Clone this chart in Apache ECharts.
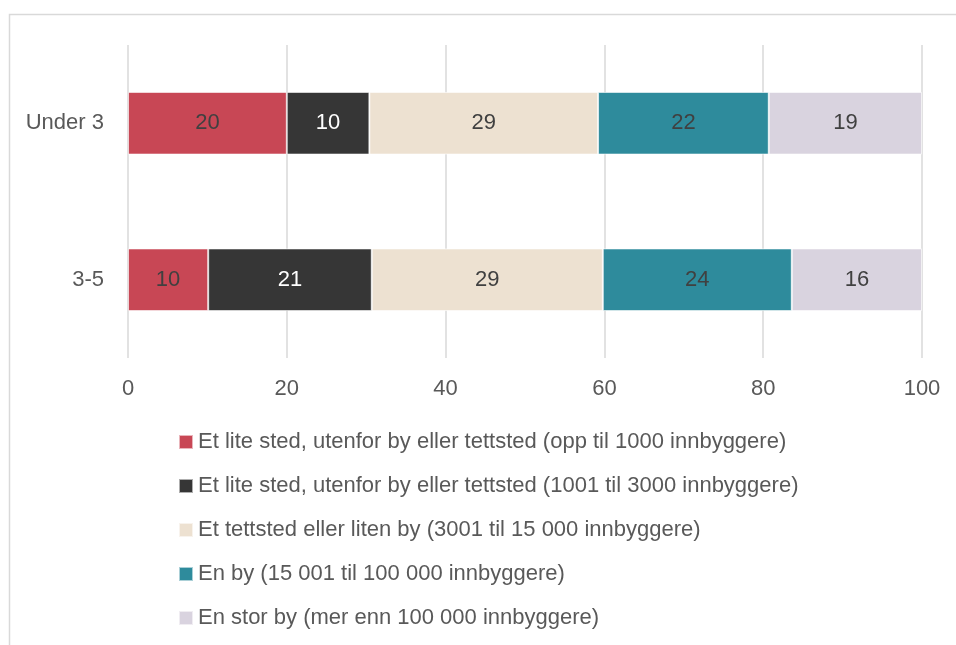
<!DOCTYPE html>
<html>
<head>
<meta charset="utf-8">
<script src="https://cdn.jsdelivr.net/npm/echarts@6/dist/echarts.min.js"></script>
<style>
  html, body { margin: 0; padding: 0; background: #fff; }
  #chart { width: 956px; height: 645px; }
</style>
</head>
<body>
<div id="chart"></div>
<script>
const categories = ["Under 3", "3-5"];
const seriesNames = [
  "Et lite sted, utenfor by eller tettsted (opp til 1000 innbyggere)",
  "Et lite sted, utenfor by eller tettsted (1001 til 3000 innbyggere)",
  "Et tettsted eller liten by (3001 til 15 000 innbyggere)",
  "En by (15 001 til 100 000 innbyggere)",
  "En stor by (mer enn 100 000 innbyggere)",
];
// per series: [Under 3, 3-5]
const smallPlace = [20.0, 10.1];
const smallTown = [10.4, 20.6];
const town = [28.8, 29.1];
const city = [21.5, 23.8];
const bigCity = [19.3, 16.4];
const xTicks = [0, 20, 40, 60, 80, 100];

const colors = ["#c84755", "#363636", "#ede1d1", "#2e8b9c", "#d9d3df"];
const labelColors = ["#404040", "#ffffff", "#404040", "#404040", "#404040"];
const values = [smallPlace, smallTown, town, city, bigCity];

const chart = echarts.init(document.getElementById("chart"), null, { renderer: "canvas" });
const font = "Liberation Sans";

chart.setOption({
  animation: false,
  textStyle: { fontFamily: font },
  graphic: [{
    type: "rect",
    shape: { x: 9.5, y: 14.5, width: 1000, height: 700 },
    style: { fill: "none", stroke: "#d9d9d9", lineWidth: 1.5 },
    silent: true,
  }],
  grid: { left: 128, right: 34, top: 45, bottom: 287 },
  xAxis: {
    type: "value",
    min: xTicks[0],
    max: xTicks[xTicks.length - 1],
    interval: 20,
    axisLine: { show: false },
    axisTick: { show: false },
    axisLabel: { color: "#595959", fontSize: 22, margin: 20, fontFamily: font },
    splitLine: { lineStyle: { color: "#d9d9d9", width: 1.5 } },
  },
  yAxis: {
    type: "category",
    data: categories,
    inverse: true,
    axisLine: { show: false },
    axisTick: { show: false },
    axisLabel: { color: "#595959", fontSize: 22, margin: 24, fontFamily: font },
  },
  legend: {
    orient: "vertical",
    left: 178,
    top: 431,
    padding: 0,
    itemWidth: 14,
    itemHeight: 14,
    itemGap: 22,
    icon: "rect",
    textStyle: { color: "#595959", fontSize: 22, fontFamily: font },
    data: seriesNames,
  },
  series: seriesNames.map((name, i) => ({
    name,
    type: "bar",
    stack: "total",
    barWidth: "40%",
    data: values[i],
    itemStyle: { color: colors[i], borderColor: "rgba(255,255,255,0.6)", borderWidth: 1 },
    label: {
      show: true,
      position: "inside",
      color: labelColors[i],
      fontSize: 22,
      fontFamily: font,
      formatter: (p) => Math.round(p.value),
    },
  })),
});
</script>
</body>
</html>
